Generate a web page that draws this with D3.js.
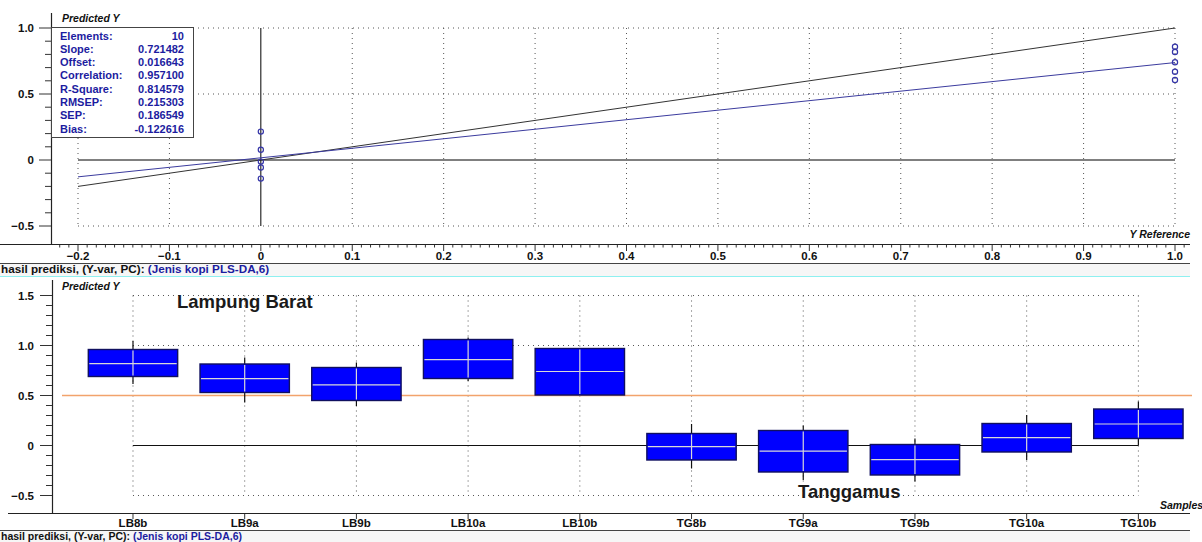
<!DOCTYPE html>
<html>
<head>
<meta charset="utf-8">
<script src="https://cdn.jsdelivr.net/npm/d3@7"></script>
<style>
  html, body { margin: 0; padding: 0; background: #fff; }
  svg { display: block; }
  text { font-family: "Liberation Sans", Arial, sans-serif; }
</style>
</head>
<body>
<svg id="chart" width="1202" height="542"></svg>
<script>
// ---- Data ----------------------------------------------------------------
const samples = ["LB8b", "LB9a", "LB9b", "LB10a", "LB10b", "TG8b", "TG9a", "TG9b", "TG10a", "TG10b"];
const yReference = [1, 1, 1, 1, 1, 0, 0, 0, 0, 0];
const predicted = [0.818, 0.668, 0.607, 0.858, 0.740, -0.012, -0.057, -0.141, 0.078, 0.215];
const boxLow = [0.69, 0.53, 0.45, 0.67, 0.505, -0.145, -0.265, -0.295, -0.065, 0.07];
const boxHigh = [0.96, 0.815, 0.78, 1.06, 0.97, 0.12, 0.15, 0.01, 0.22, 0.365];
const whiskerLow = [0.615, 0.43, 0.395, 0.645, 0.505, -0.23, -0.345, -0.36, -0.145, 0.0];
const whiskerHigh = [1.045, 0.88, 0.83, 1.08, 0.97, 0.215, 0.2, 0.07, 0.305, 0.44];

const statNames = ["Elements:", "Slope:", "Offset:", "Correlation:", "R-Square:", "RMSEP:", "SEP:", "Bias:"];
const statValues = ["10", "0.721482", "0.016643", "0.957100", "0.814579", "0.215303", "0.186549", "-0.122616"];
const slope = 0.721482;
const offset = 0.016643;

const topXTicks = [-0.2, -0.1, 0, 0.1, 0.2, 0.3, 0.4, 0.5, 0.6, 0.7, 0.8, 0.9, 1.0];
const topYTicks = [-0.5, 0, 0.5, 1.0];
const bottomYTicks = [-0.5, 0, 0.5, 1.0, 1.5];
const classThreshold = 0.5;
const captionLead = "hasil prediksi, (Y-var, PC): ";
const captionModel = "(Jenis kopi PLS-DA,6)";

// ---- Setup ---------------------------------------------------------------
const svg = d3.select("#chart");
const fmtTick = v => (v === 0 ? "0" : d3.format(".1f")(v));
const INK = "#111";
const BLUE_TXT = "#1c1ca0";
const TICK_FS = 11.5;

function dotted(g, x1, y1, x2, y2) {
  g.append("line").attr("x1", x1).attr("y1", y1).attr("x2", x2).attr("y2", y2)
    .attr("stroke", "#555").attr("stroke-width", 1).attr("stroke-dasharray", "1,4");
}

function captionBar(yLine, yText, fs) {
  svg.append("rect").attr("x", 0).attr("y", yLine).attr("width", 1190).attr("height", 13).attr("fill", "#f6f6f6");
  svg.append("line").attr("x1", 0).attr("x2", 1190).attr("y1", yLine + 0.5).attr("y2", yLine + 0.5)
    .attr("stroke", "#444").attr("stroke-width", 1.2);
  const t = svg.append("text").attr("x", 1).attr("y", yText)
    .attr("font-size", fs).attr("font-weight", "bold").attr("fill", INK);
  t.append("tspan").text(captionLead);
  t.append("tspan").attr("fill", BLUE_TXT).text(captionModel);
}

// ---- Upper panel: predicted vs reference ----------------------------------
const xTop = d3.scaleLinear().domain([-0.2, 1.0]).range([78, 1175]);
const yTop = d3.scaleLinear().domain([-0.5, 1.0]).range([226, 28]);
const gTop = svg.append("g");

// grid
topYTicks.filter(v => v !== 0).forEach(v => dotted(gTop, xTop(-0.2), yTop(v), xTop(1.0), yTop(v)));
topXTicks.filter(v => v !== 0).forEach(v => dotted(gTop, xTop(v), yTop(1.0), xTop(v), yTop(-0.5)));

// zero lines
gTop.append("line").attr("x1", xTop(-0.2)).attr("x2", xTop(1.0)).attr("y1", yTop(0)).attr("y2", yTop(0))
  .attr("stroke", "#000").attr("stroke-width", 1);
gTop.append("line").attr("x1", xTop(0)).attr("x2", xTop(0)).attr("y1", yTop(1.0)).attr("y2", yTop(-0.5))
  .attr("stroke", "#000").attr("stroke-width", 1);

// target and regression lines
gTop.append("line").attr("x1", xTop(-0.2)).attr("y1", yTop(-0.2)).attr("x2", xTop(1.0)).attr("y2", yTop(1.0))
  .attr("stroke", "#333").attr("stroke-width", 1);
gTop.append("line").attr("x1", xTop(-0.2)).attr("y1", yTop(offset + slope * -0.2))
  .attr("x2", xTop(1.0)).attr("y2", yTop(offset + slope * 1.0))
  .attr("stroke", "#3b3b9e").attr("stroke-width", 1);

// samples
gTop.selectAll("circle.pt").data(samples).join("circle").attr("class", "pt")
  .attr("cx", (d, i) => xTop(yReference[i])).attr("cy", (d, i) => yTop(predicted[i]))
  .attr("r", 2.6).attr("fill", "none").attr("stroke", "#3535a8").attr("stroke-width", 1.2);

// axes
gTop.append("line").attr("x1", 0).attr("x2", 1190).attr("y1", 244.5).attr("y2", 244.5).attr("stroke", "#222").attr("stroke-width", 1.2);
gTop.append("line").attr("x1", 51.5).attr("x2", 51.5).attr("y1", 13).attr("y2", 244).attr("stroke", "#222").attr("stroke-width", 1.2);
d3.range(-22, 102).forEach(k => {
  const v = k / 100, major = k % 10 === 0;
  gTop.append("line").attr("x1", xTop(v)).attr("x2", xTop(v)).attr("y1", 245).attr("y2", major ? 251 : 247.5)
    .attr("stroke", "#333").attr("stroke-width", 1);
});
gTop.selectAll("text.xt").data(topXTicks).join("text").attr("class", "xt")
  .attr("x", d => xTop(d)).attr("y", 260).attr("text-anchor", "middle")
  .attr("font-size", TICK_FS).attr("font-weight", "bold").attr("fill", INK).text(fmtTick);
d3.range(-5, 11).forEach(k => {
  const v = k / 10, major = k % 5 === 0;
  gTop.append("line").attr("x1", major ? 39 : 45).attr("x2", 51).attr("y1", yTop(v)).attr("y2", yTop(v))
    .attr("stroke", "#333").attr("stroke-width", 1);
});
gTop.selectAll("text.yt").data(topYTicks).join("text").attr("class", "yt")
  .attr("x", 34).attr("y", d => yTop(d) + 4).attr("text-anchor", "end")
  .attr("font-size", TICK_FS).attr("font-weight", "bold").attr("fill", INK).text(fmtTick);

gTop.append("text").attr("x", 62).attr("y", 22).attr("font-size", 10.5).attr("font-weight", "bold")
  .attr("font-style", "italic").attr("fill", INK).text("Predicted Y");
gTop.append("text").attr("x", 1190).attr("y", 238).attr("text-anchor", "end").attr("font-size", 10.5)
  .attr("font-weight", "bold").attr("font-style", "italic").attr("fill", INK).text("Y Reference");

// statistics box
const statBox = gTop.append("g");
statBox.append("rect").attr("x", 51.5).attr("y", 27.5).attr("width", 142).attr("height", 110)
  .attr("fill", "#fff").attr("stroke", "#444").attr("stroke-width", 1);
statNames.forEach((n, i) => {
  statBox.append("text").attr("x", 60).attr("y", 39.5 + i * 13.3).attr("font-size", 11)
    .attr("font-weight", "bold").attr("fill", BLUE_TXT).text(n);
  statBox.append("text").attr("x", 184).attr("y", 39.5 + i * 13.3).attr("font-size", 11)
    .attr("text-anchor", "end").attr("font-weight", "bold").attr("fill", BLUE_TXT).text(statValues[i]);
});

captionBar(263, 273, 11.7);
svg.append("line").attr("x1", 0).attr("x2", 1190).attr("y1", 276.5).attr("y2", 276.5)
  .attr("stroke", "#8ef0f0").attr("stroke-width", 1.2);

// ---- Lower panel: predicted Y per sample ----------------------------------
const idx = d3.range(samples.length);
const xB = d3.scaleLinear().domain([-0.725, 9.48]).range([52, 1192]);
const yB = d3.scaleLinear().domain([-0.5, 1.5]).range([495.5, 295.5]);
const gBot = svg.append("g");
const half = 0.4;

bottomYTicks.filter(v => v !== 0 && v !== classThreshold)
  .forEach(v => dotted(gBot, xB(0), yB(v), xB(9), yB(v)));
idx.forEach(i => dotted(gBot, xB(i), yB(1.5), xB(i), yB(-0.5)));

gBot.append("line").attr("x1", 62).attr("x2", 1192).attr("y1", yB(classThreshold)).attr("y2", yB(classThreshold))
  .attr("stroke", "#f2a36c").attr("stroke-width", 1.3);
gBot.append("line").attr("x1", xB(0)).attr("x2", xB(9)).attr("y1", yB(0)).attr("y2", yB(0))
  .attr("stroke", "#111").attr("stroke-width", 1);

// whiskers, boxes, crosshair
gBot.selectAll("line.wh").data(idx).join("line").attr("class", "wh")
  .attr("x1", i => xB(i)).attr("x2", i => xB(i)).attr("y1", i => yB(whiskerHigh[i])).attr("y2", i => yB(whiskerLow[i]))
  .attr("stroke", "#111").attr("stroke-width", 1.2);
gBot.selectAll("rect.bx").data(idx).join("rect").attr("class", "bx")
  .attr("x", i => xB(i - half)).attr("width", i => xB(i + half) - xB(i - half))
  .attr("y", i => yB(boxHigh[i])).attr("height", i => yB(boxLow[i]) - yB(boxHigh[i]))
  .attr("fill", "#0000ff").attr("stroke", "#101060").attr("stroke-width", 1.4);
gBot.selectAll("line.vc").data(idx).join("line").attr("class", "vc")
  .attr("x1", i => xB(i)).attr("x2", i => xB(i))
  .attr("y1", i => yB(Math.min(boxHigh[i], whiskerHigh[i])) + 1).attr("y2", i => yB(Math.max(boxLow[i], whiskerLow[i])) - 1)
  .attr("stroke", "#d8d8d8").attr("stroke-width", 1.2);
gBot.selectAll("line.md").data(idx).join("line").attr("class", "md")
  .attr("x1", i => xB(i - half) + 1).attr("x2", i => xB(i + half) - 1)
  .attr("y1", i => yB(predicted[i])).attr("y2", i => yB(predicted[i]))
  .attr("stroke", "#d8d8d8").attr("stroke-width", 1.2);

// axes
gBot.append("line").attr("x1", 8).attr("x2", 1190).attr("y1", 513.5).attr("y2", 513.5).attr("stroke", "#222").attr("stroke-width", 1.2);
gBot.append("line").attr("x1", 52.5).attr("x2", 52.5).attr("y1", 280).attr("y2", 513).attr("stroke", "#222").attr("stroke-width", 1.2);
idx.forEach(i => gBot.append("line").attr("x1", xB(i)).attr("x2", xB(i)).attr("y1", 514).attr("y2", 519)
  .attr("stroke", "#333").attr("stroke-width", 1));
gBot.selectAll("text.xt").data(samples).join("text").attr("class", "xt")
  .attr("x", (d, i) => xB(i)).attr("y", 527).attr("text-anchor", "middle")
  .attr("font-size", 11.5).attr("font-weight", "bold").attr("fill", INK).text(d => d);
d3.range(-5, 16).forEach(k => {
  const v = k / 10, major = k % 5 === 0;
  gBot.append("line").attr("x1", major ? 40 : 46).attr("x2", 52).attr("y1", yB(v)).attr("y2", yB(v))
    .attr("stroke", "#333").attr("stroke-width", 1);
});
gBot.selectAll("text.yt").data(bottomYTicks).join("text").attr("class", "yt")
  .attr("x", 34).attr("y", d => yB(d) + 4).attr("text-anchor", "end")
  .attr("font-size", TICK_FS).attr("font-weight", "bold").attr("fill", INK).text(fmtTick);

gBot.append("text").attr("x", 62).attr("y", 290).attr("font-size", 10.5).attr("font-weight", "bold")
  .attr("font-style", "italic").attr("fill", INK).text("Predicted Y");
gBot.append("text").attr("x", 1160).attr("y", 509).attr("font-size", 10.5).attr("font-weight", "bold")
  .attr("font-style", "italic").attr("fill", INK).text("Samples");

gBot.append("text").attr("x", 177).attr("y", 308).attr("font-family", "'DejaVu Sans', Verdana, sans-serif")
  .attr("font-size", 18.5).attr("font-weight", "bold").attr("fill", "#1a1a1a").text("Lampung Barat");
gBot.append("text").attr("x", 798).attr("y", 498).attr("font-family", "'DejaVu Sans', Verdana, sans-serif")
  .attr("font-size", 18.5).attr("font-weight", "bold").attr("fill", "#1a1a1a").text("Tanggamus");

captionBar(530, 539.5, 10.5);
</script>
</body>
</html>
